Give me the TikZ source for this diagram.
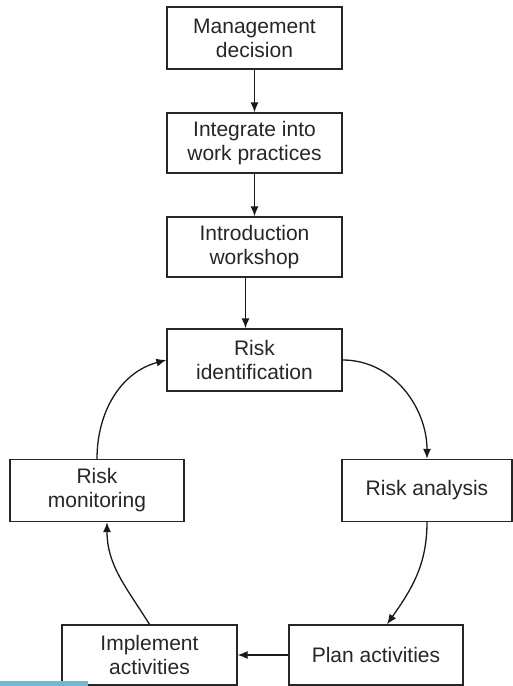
\documentclass[tikz,border=0pt]{standalone}
\usepackage{fontspec}
\setmainfont{Liberation Sans}
\usepackage{tikz}
\usetikzlibrary{arrows.meta}
\definecolor{barblue}{RGB}{110,185,214}

\begin{document}
\begin{tikzpicture}[x=1pt,y=-1pt,
        stepbox/.style={draw=black!85, line width=1.3pt, text=black!85,
            minimum width=175pt, minimum height=62pt, inner sep=0pt,
            align=center, font=\fontsize{21}{24}\selectfont},
        arr/.style={-{Latex[length=10pt,width=8pt]}, line width=1.3pt, draw=black!90}]
        \useasboundingbox (0,0) rectangle (513,686);

        % Coordinates
        \coordinate (A) at (254.5,38);
        \coordinate (B) at (254.5,143);
        \coordinate (C) at (254.5,247);
        \coordinate (D) at (254.5,360);
        \coordinate (E) at (97,490.5);
        \coordinate (F) at (427,490.5);
        \coordinate (G) at (376,655);
        \coordinate (H) at (149.5,655);

        % Boxes
        \node[stepbox] (mgmt) at (A) {Management\\decision};
        \node[stepbox, minimum height=60pt] (integ) at (B) {Integrate into\\work practices};
        \node[stepbox, minimum height=60pt] (intro) at (C) {Introduction\\workshop};
        \node[stepbox] (riskid) at (D) {Risk\\identification};
        \node[stepbox, minimum width=174pt] (riskmon) at (E) {Risk\\monitoring};
        \node[stepbox, minimum width=170pt] (riskan) at (F) {Risk analysis};
        \node[stepbox, minimum width=174pt, minimum height=60pt] (plan) at (G) {Plan activities};
        \node[stepbox, minimum height=60pt] (impl) at (H) {Implement\\activities};

        % Drawing
        \draw[arr] (mgmt) -- (integ);
        \draw[arr] (integ) -- (intro);
        \draw[arr] ([xshift=-9pt]intro.south) -- ([xshift=-9pt]riskid.north);
        \draw[arr] (riskid.east) to[out=0, in=90] (riskan.north);
        \draw[arr] (riskan.south) to[out=-90, in=55] ([xshift=11pt]plan.north);
        \draw[arr] (plan) -- (impl);
        \draw[arr] (impl.north) to[out=122, in=-90] ([xshift=10pt]riskmon.south);
        \draw[arr] (riskmon.north) to[out=90, in=195] (riskid.west);

        \fill[barblue] (0,681) rectangle (88,686);
\end{tikzpicture}
\end{document}
